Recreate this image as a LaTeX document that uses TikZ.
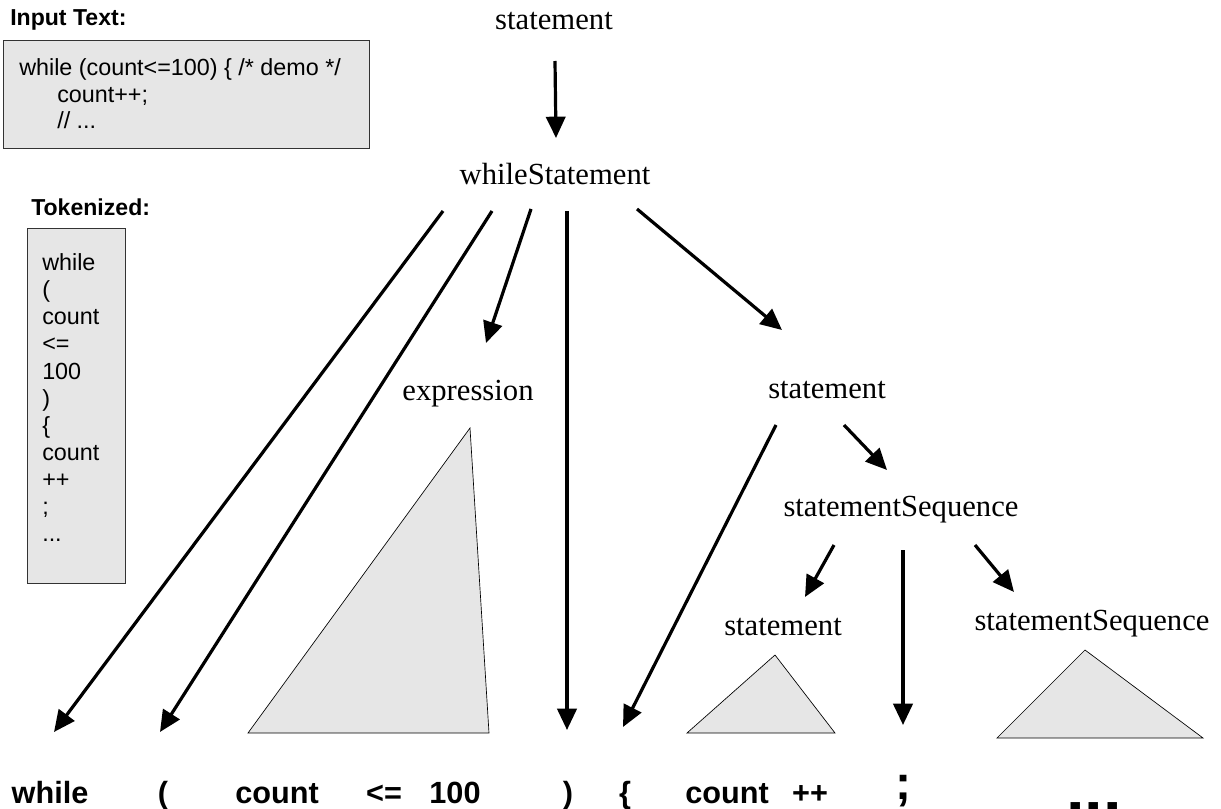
\documentclass[tikz,border=0pt]{standalone}
\usepackage{fontspec}
\setmainfont{Liberation Serif}
\setsansfont{Liberation Sans}
\usetikzlibrary{arrows.meta,fit}
\definecolor{panel}{HTML}{E6E6E6}
\begin{document}
\begin{tikzpicture}[x=0.75pt,y=-0.75pt,
 nt/.style={font=\fontsize{23}{27}\selectfont, inner sep=0pt, anchor=base},
 tok/.style={font=\sffamily\bfseries\fontsize{23}{27}\selectfont, inner sep=0pt, anchor=base},
 lbl/.style={font=\sffamily\bfseries\fontsize{17.3}{20}\selectfont, inner sep=0pt, anchor=base west},
 code/.style={font=\sffamily\fontsize{17.5}{20}\selectfont, inner sep=0pt, anchor=base west},
 arr/.style={line width=2.4pt, -{Triangle[length=16pt,width=14.5pt]}},
 tri/.style={draw=black, line width=0.5pt, fill=panel},
 panelbox/.style={draw=black!80, line width=0.7pt, fill=panel, inner sep=0pt}]
\useasboundingbox (0,0) rectangle (1221,809);

% input text panel
\node[lbl] (inlbl) at (10,26) {Input Text:};
\node[panelbox, fit={(3,40) (369,148)}] (inbox) {};
\node[code] (in1) at (19,76) {while (count<=100) \{ /* demo */};
\node[code] (in2) at (57,103) {count++;};
\node[code] (in3) at (57,129) {// ...};

% tokenized panel
\node[lbl] (tklbl) at (31,216) {Tokenized:};
\node[panelbox, fit={(27,228) (125,583)}] (tkbox) {};
\node[code] (tk1) at (42,271) {while};
\node[code] (tk2) at (42,298) {(};
\node[code] (tk3) at (42,325) {count};
\node[code] (tk4) at (42,352) {<=};
\node[code] (tk5) at (42,379) {100};
\node[code] (tk6) at (42,406) {)};
\node[code] (tk7) at (42,433) {\{};
\node[code] (tk8) at (42,460) {count};
\node[code] (tk9) at (42,487) {++};
\node[code] (tk10) at (42,514) {;};
\node[code] (tk11) at (42,541) {...};

% tree nodes
\node[nt] (s0) at (554,30) {statement};
\node[nt] (ws) at (555,185) {whileStatement};
\node[nt] (expr) at (468,400) {expression};
\node[nt] (s1) at (827,398) {statement};
\node[nt] (ss1) at (901,516) {statementSequence};
\node[nt] (s2) at (783,635) {statement};
\node[nt] (ss2) at (1092,630) {statementSequence};

% tokens
\node[tok] (t1) at (50,803) {while};
\node[tok] (t2) at (163,803) {(};
\node[tok] (t3) at (277,803) {count};
\node[tok] (t4) at (384,803) {<=};
\node[tok] (t5) at (455,803) {100};
\node[tok] (t6) at (568,803) {)};
\node[tok] (t7) at (625,803) {\{};
\node[tok] (t8) at (727,803) {count};
\node[tok] (t9) at (810,803) {++};
\node[tok, font=\sffamily\bfseries\fontsize{36}{40}\selectfont] (t10) at (903,799) {;};
\node[tok, font=\sffamily\bfseries\fontsize{50}{54}\selectfont] (t11) at (1094,812) {...};

% subtree triangles
\filldraw[tri] (248,733) -- (470,428) -- (489,733) -- cycle;
\filldraw[tri] (687,733) -- (775,655) -- (835,733) -- cycle;
\filldraw[tri] (997,738) -- (1085,650) -- (1203,738) -- cycle;

% connector end points
\coordinate (s0a) at (555,61);   \coordinate (e0a) at (556,138);
\coordinate (s1a) at (443,211);  \coordinate (e1a) at (54,732);
\coordinate (s2a) at (492,211);  \coordinate (e2a) at (160,732);
\coordinate (s3a) at (531,209);  \coordinate (e3a) at (486,343);
\coordinate (s4a) at (567,211);  \coordinate (e4a) at (567,730);
\coordinate (s5a) at (637,209);  \coordinate (e5a) at (782,330);
\coordinate (s6a) at (776,425);  \coordinate (e6a) at (623,727);
\coordinate (s7a) at (844,425);  \coordinate (e7a) at (887,470);
\coordinate (s8a) at (834,545);  \coordinate (e8a) at (805,597);
\coordinate (s9a) at (903,550);  \coordinate (e9a) at (903,725);
\coordinate (s10a) at (975,545); \coordinate (e10a) at (1014,592);

\foreach \k in {0,1,2,3,4,5,6,7,8,9,10}
  \draw[arr] (s\k a) -- (e\k a);
\end{tikzpicture}
\end{document}
